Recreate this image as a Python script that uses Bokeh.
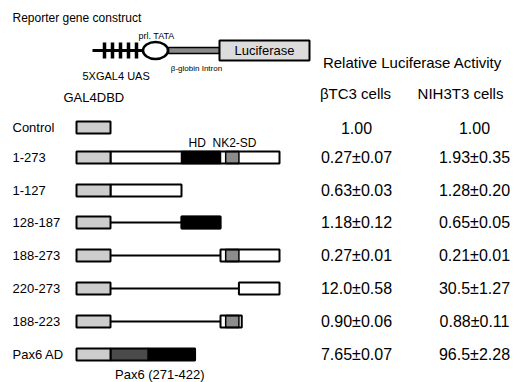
import numpy as np
from bokeh.plotting import figure
from bokeh.models import Range1d
from bokeh.core.properties import value
from bokeh.embed import file_html
from bokeh.resources import INLINE

# ---------------- data ----------------
constructs = ["Control", "1-273", "1-127", "128-187", "188-273", "220-273", "188-223", "Pax6 AD"]
res_start = [0, 1, 1, 128, 188, 220, 188, 0]      # 0 = no Nkx part
res_end = [0, 273, 127, 187, 273, 273, 223, 0]
btc3 = ["1.00", "0.27\u00b10.07", "0.63\u00b10.03", "1.18\u00b10.12", "0.27\u00b10.01",
        "12.0\u00b10.58", "0.90\u00b10.06", "7.65\u00b10.07"]
nih3t3 = ["1.00", "1.93\u00b10.35", "1.28\u00b10.20", "0.65\u00b10.05", "0.21\u00b10.01",
          "30.5\u00b11.27", "0.88\u00b10.11", "96.5\u00b12.28"]
domain_names = ["HD", "NK2-SD"]
domain_start = [128, 197]
domain_end = [187, 219]
pax6_res = (271, 422)

# ---------------- layout helpers ----------------
FONT = value("Liberation Sans")
res_bp = [0, 127, 187, 220, 273]
px_bp = [110, 181, 220, 239, 279]


def rx(r):
    return float(np.interp(r, res_bp, px_bp))


row_y = [127, 157, 190, 222, 255, 288, 321, 354]
H = 6
gal4 = (76, 110)
GAL4_FILL = "#cdcdcd"
NK2_FILL = "#8c8c8c"

p = figure(width=517, height=382, x_range=Range1d(0, 517), y_range=Range1d(382, 0),
           output_backend="svg", toolbar_location=None, min_border=0,
           x_axis_type=None, y_axis_type=None)
p.grid.visible = False
p.outline_line_color = None
p.background_fill_color = "white"


def txt(x, y, s, size, align="left", style="normal"):
    p.text(x=[x], y=[y], text=[s], text_font=FONT, text_font_size=f"{size}px",
           text_align=align, text_baseline="middle", text_color="black",
           text_font_style=style)


def box(l, r, y, fill, lw=2, h=H):
    p.quad(left=[l], right=[r], top=[y - h], bottom=[y + h], fill_color=fill,
           line_color="black", line_width=lw)


# ---------------- reporter construct ----------------
txt(12, 17, "Reporter gene construct", 12)
p.segment(x0=[92], y0=[50], x1=[219], y1=[50], line_color="black", line_width=3)
for tx in [104, 112, 120, 128, 136]:
    p.segment(x0=[tx], y0=[42], x1=[tx], y1=[58], line_color="black", line_width=3.5)
box(168, 219, 50, "#8a8a8a", lw=1.5, h=3)
p.ellipse(x=[155], y=[50], width=25, height=17, fill_color="white",
          line_color="black", line_width=2.5)
box(219, 309, 50, "#dcdcdc", lw=2, h=10)
txt(264, 50, "Luciferase", 13, "center")
txt(156, 35, "prl. TATA", 9, "center")
txt(196, 68, "\u03b2-globin Intron", 8, "center")
txt(82, 75, "5XGAL4 UAS", 11)

# ---------------- headers ----------------
txt(412, 62, "Relative Luciferase Activity", 15, "center")
txt(355, 93, "\u03b2TC3 cells", 15, "center")
txt(460, 93, "NIH3T3 cells", 15, "center")
txt(63, 97, "GAL4DBD", 13)
txt(188, 142, "HD", 12)
txt(212, 142, "NK2-SD", 12)

# ---------------- constructs ----------------
for name, s, e, y, v1, v2 in zip(constructs, res_start, res_end, row_y, btc3, nih3t3):
    txt(12, y, name, 13)
    txt(356, y, v1, 16, "center")
    txt(474, y, v2, 16, "center")
    if s > 0:
        if s == 1:
            l = rx(0)
        else:
            l = rx(s - 1)
            p.segment(x0=[gal4[1]], y0=[y], x1=[l], y1=[y], line_color="black", line_width=2)
        r = rx(e)
        p.quad(left=[l], right=[r], top=[y - H], bottom=[y + H], fill_color="white",
               line_color=None)
        for dn, ds, de in zip(domain_names, domain_start, domain_end):
            a, b = max(ds, s), min(de, e)
            if a <= b:
                fill = "black" if dn == "HD" else NK2_FILL
                p.quad(left=[rx(a - 1)], right=[rx(b)], top=[y - H], bottom=[y + H],
                       fill_color=fill, line_color="black", line_width=1.5)
        p.quad(left=[l], right=[r], top=[y - H], bottom=[y + H], fill_color=None,
               line_color="black", line_width=2)
    if name == "Pax6 AD":
        pax_l, pax_r = gal4[1], gal4[1] + (pax6_res[1] - pax6_res[0]) * 0.56
        mid = pax_l + (pax_r - pax_l) * 0.45
        p.quad(left=[pax_l], right=[mid], top=[y - H], bottom=[y + H],
               fill_color="#4a4a4a", line_color="black", line_width=2)
        p.quad(left=[mid], right=[pax_r], top=[y - H], bottom=[y + H],
               fill_color="black", line_color="black", line_width=2)
        txt((pax_l + pax_r) / 2 + 7, 374, f"Pax6 ({pax6_res[0]}-{pax6_res[1]})", 13, "center")
    box(gal4[0], gal4[1], y, GAL4_FILL)

open("out.html", "w").write(file_html(p, INLINE))
